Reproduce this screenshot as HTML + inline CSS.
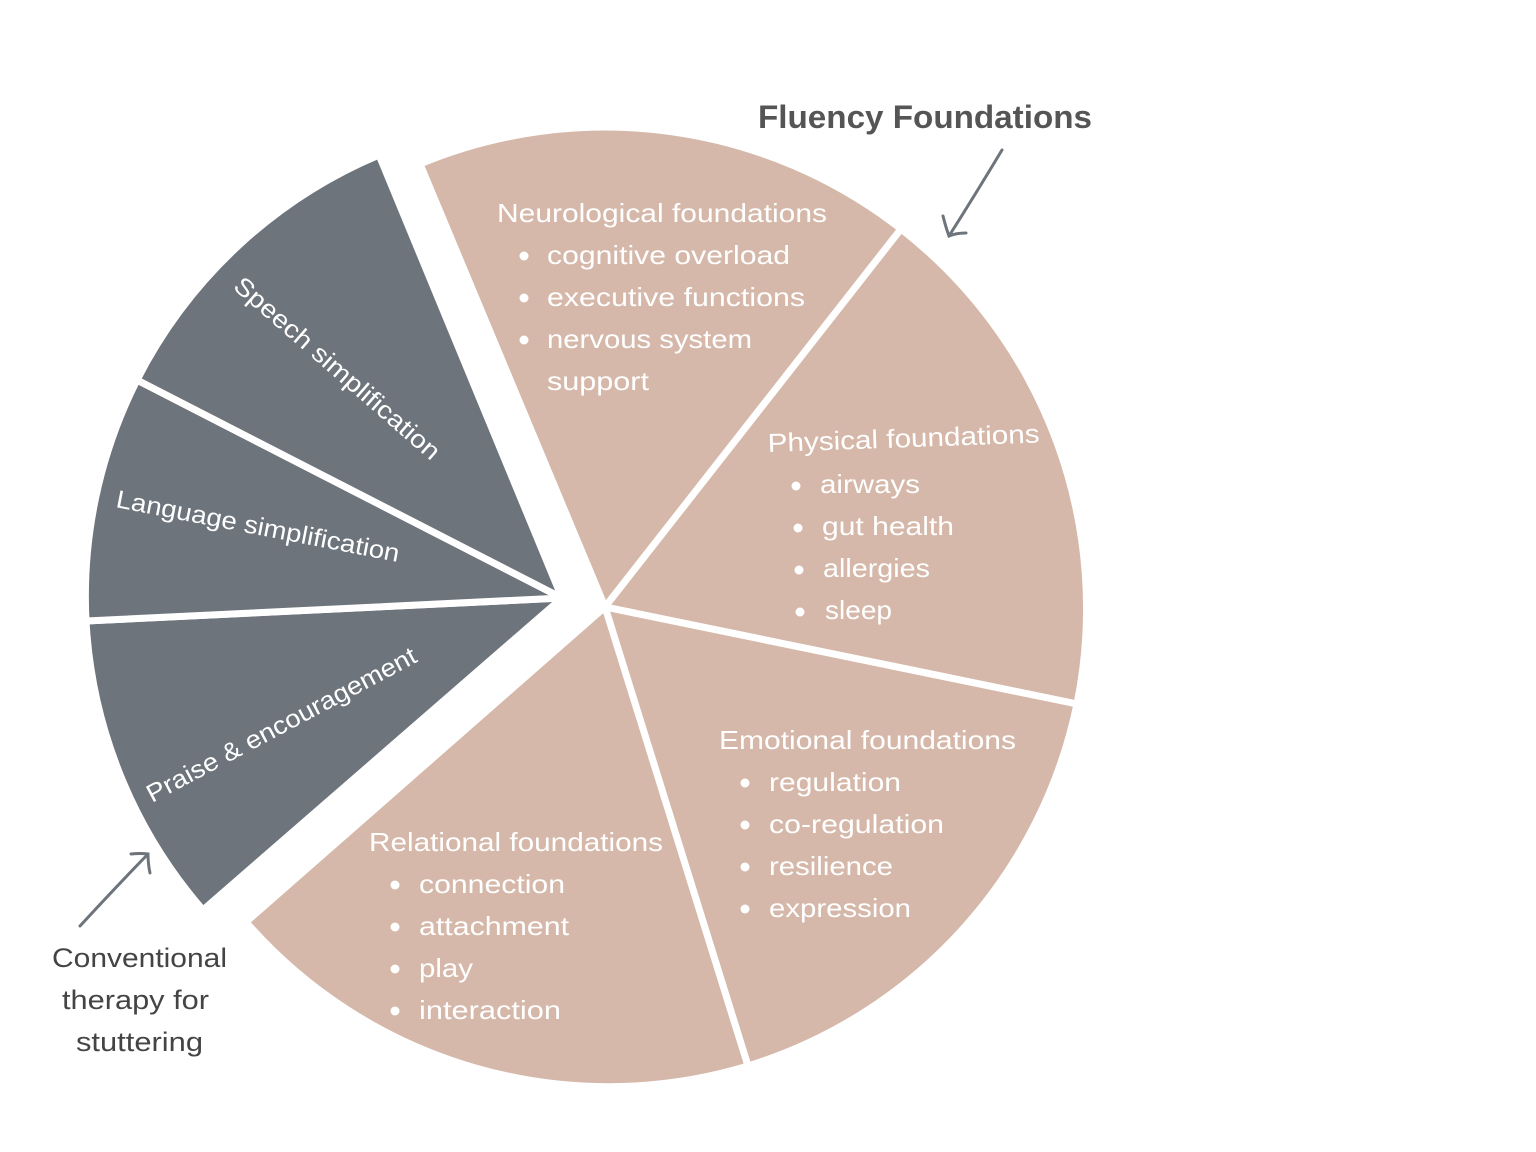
<!DOCTYPE html>
<html><head><meta charset="utf-8"><style>
html,body{margin:0;padding:0;background:#fff;}
svg{display:block;}
text{font-family:"Liberation Sans",sans-serif;}
</style></head><body>
<svg width="1536" height="1152" viewBox="0 0 1536 1152" xmlns="http://www.w3.org/2000/svg">
<g stroke="#fff" stroke-width="7" stroke-linejoin="round">
<path d="M605 607 L420 164 A481 481 0 0 1 901 229 Z" fill="#d5b8a9"/>
<path d="M605 607 L901 229 A481 481 0 0 1 1077 704 Z" fill="#d5b8a9"/>
<path d="M605 607 L1077 704 A481 481 0 0 1 748 1066 Z" fill="#d5b8a9"/>
<path d="M605 607 L748 1066 A481 481 0 0 1 246 922 Z" fill="#d5b8a9"/>
<path d="M562 598 L203 910 A480 480 0 0 1 86 621 Z" fill="#6e747c"/>
<path d="M562 598 L86 621 A480 480 0 0 1 137 380 Z" fill="#6e747c"/>
<path d="M562 598 L137 380 A480 480 0 0 1 379 155 Z" fill="#6e747c"/>
</g>

<g fill="#fff" font-size="26">
<text x="497" y="222" textLength="330" lengthAdjust="spacingAndGlyphs">Neurological foundations</text>
<text x="547" y="264" textLength="243" lengthAdjust="spacingAndGlyphs">cognitive overload</text>
<text x="547" y="306" textLength="258" lengthAdjust="spacingAndGlyphs">executive functions</text>
<text x="547" y="348" textLength="205" lengthAdjust="spacingAndGlyphs">nervous system</text>
<text x="547" y="390" textLength="102" lengthAdjust="spacingAndGlyphs">support</text>
<circle cx="524" cy="256" r="4.5"/><circle cx="524" cy="298" r="4.5"/><circle cx="524" cy="340" r="4.5"/>

<text x="768" y="452" transform="rotate(-2 768 452)" textLength="272" lengthAdjust="spacingAndGlyphs">Physical foundations</text>
<text x="820" y="493" textLength="100" lengthAdjust="spacingAndGlyphs">airways</text>
<text x="822" y="535" textLength="132" lengthAdjust="spacingAndGlyphs">gut health</text>
<text x="823" y="577" textLength="107" lengthAdjust="spacingAndGlyphs">allergies</text>
<text x="825" y="619" textLength="67" lengthAdjust="spacingAndGlyphs">sleep</text>
<circle cx="796" cy="486" r="4.5"/><circle cx="798" cy="528" r="4.5"/><circle cx="799" cy="570" r="4.5"/><circle cx="800" cy="612" r="4.5"/>

<text x="719" y="749" textLength="297" lengthAdjust="spacingAndGlyphs">Emotional foundations</text>
<text x="769" y="791" textLength="132" lengthAdjust="spacingAndGlyphs">regulation</text>
<text x="769" y="833" textLength="175" lengthAdjust="spacingAndGlyphs">co-regulation</text>
<text x="769" y="875" textLength="124" lengthAdjust="spacingAndGlyphs">resilience</text>
<text x="769" y="917" textLength="142" lengthAdjust="spacingAndGlyphs">expression</text>
<circle cx="745" cy="783" r="4.5"/><circle cx="745" cy="825" r="4.5"/><circle cx="745" cy="867" r="4.5"/><circle cx="745" cy="909" r="4.5"/>

<text x="369" y="851" textLength="294" lengthAdjust="spacingAndGlyphs">Relational foundations</text>
<text x="419" y="893" textLength="146" lengthAdjust="spacingAndGlyphs">connection</text>
<text x="419" y="935" textLength="150" lengthAdjust="spacingAndGlyphs">attachment</text>
<text x="419" y="977" textLength="54" lengthAdjust="spacingAndGlyphs">play</text>
<text x="419" y="1019" textLength="142" lengthAdjust="spacingAndGlyphs">interaction</text>
<circle cx="395" cy="885" r="4.5"/><circle cx="395" cy="927" r="4.5"/><circle cx="395" cy="969" r="4.5"/><circle cx="395" cy="1011" r="4.5"/>

<text x="232" y="288" font-size="25" transform="rotate(41 232 288)" textLength="264" lengthAdjust="spacingAndGlyphs">Speech simplification</text>
<text x="115" y="507" font-size="25" transform="rotate(11 115 507)" textLength="288" lengthAdjust="spacingAndGlyphs">Language simplification</text>
<text x="152" y="803" font-size="25" transform="rotate(-28 152 803)" textLength="302" lengthAdjust="spacingAndGlyphs">Praise &amp; encouragement</text>
</g>

<text x="925" y="128" text-anchor="middle" font-size="32" font-weight="bold" fill="#555" textLength="334" lengthAdjust="spacingAndGlyphs">Fluency Foundations</text>

<g fill="#444" font-size="27">
<text x="52" y="967" textLength="175" lengthAdjust="spacingAndGlyphs">Conventional</text>
<text x="62" y="1009" textLength="147" lengthAdjust="spacingAndGlyphs">therapy for</text>
<text x="76" y="1051" textLength="127" lengthAdjust="spacingAndGlyphs">stuttering</text>
</g>

<g stroke="#6e747c" stroke-width="3" fill="none" stroke-linecap="round">
<path d="M1002 150 Q975 195 949 236"/>
<path d="M943 216 Q946 228 949 236 Q956 233 966 233"/>
<path d="M80 926 Q115 888 148 854"/>
<path d="M131 854 Q140 853 148 854 Q148 864 150 873"/>
</g>
</svg>
</body></html>
